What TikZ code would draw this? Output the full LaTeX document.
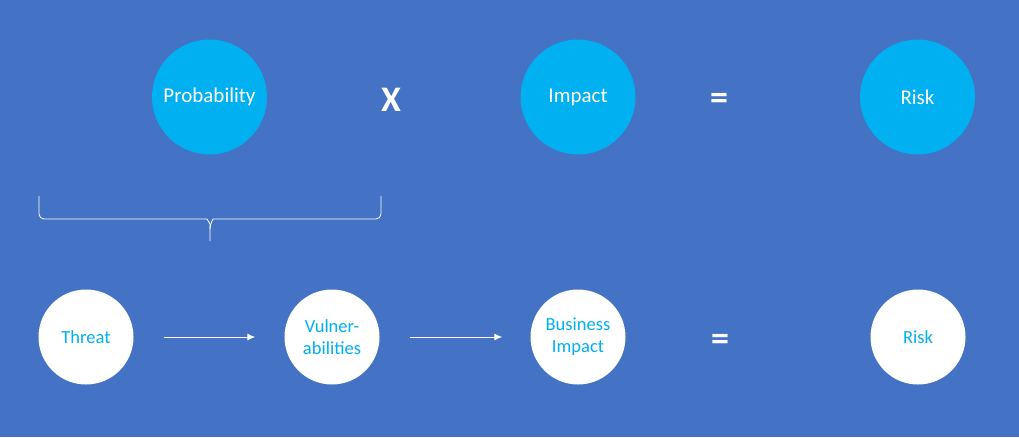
\documentclass[tikz,border=0pt]{standalone}
\usepackage{fontspec}
\setmainfont{Carlito}
\usetikzlibrary{arrows.meta}
\definecolor{bgblue}{HTML}{4472C4}
\definecolor{ballcyan}{HTML}{00B0F0}
\tikzset{
    topball/.style={circle, fill=ballcyan, minimum size=115pt, inner sep=0pt, text=white, font=\fontsize{21}{25}\selectfont},
    lowball/.style={circle, fill=white, minimum size=95pt, inner sep=0pt, text=ballcyan, align=center, font=\fontsize{18.5}{22}\selectfont},
    oper/.style={text=white, font=\fontsize{36}{40}\selectfont\bfseries},
    flow/.style={white, line width=1pt, -{Latex[length=8pt,width=7pt]}},
}
\begin{document}
\begin{tikzpicture}[x=1pt, y=-1pt]
    % background
    \fill[bgblue] (0,0) rectangle (1019,437);

    % top row: probability x impact = risk
    \node (prob) at (209.5,97) [topball] {Probability};
    \node (times) at (391,100) [oper] {X};
    \node (impact) at (578,97) [topball] {Impact};
    \node (eqtop) at (719,101.5) [oper] {=};
    \node (risktop) at (917.5,97) [topball] {Risk};

    % brace under probability
    \draw[white, line width=0.8pt, rounded corners=5pt] (39,196) -- (39,219) -- (202,219) to[out=0,in=90] (210,229) -- (210,241);
    \draw[white, line width=0.8pt, rounded corners=5pt] (381,196) -- (381,219) -- (218,219) to[out=180,in=90] (210,229);

    % bottom row
    \node (threat) at (86,337) [lowball] {Threat};
    \node (vuln) at (332,337) [lowball] {Vulner-\\abilities};
    \node (bizimp) at (578,337) [lowball] {Business\\Impact};
    \node (eqlow) at (720,342.5) [oper] {=};
    \node (risklow) at (918,337) [lowball] {Risk};

    \draw[flow, shorten <=30pt, shorten >=29pt] (threat) -- (vuln);
    \draw[flow, shorten <=30pt, shorten >=28pt] (vuln) -- (bizimp);
\end{tikzpicture}
\end{document}
